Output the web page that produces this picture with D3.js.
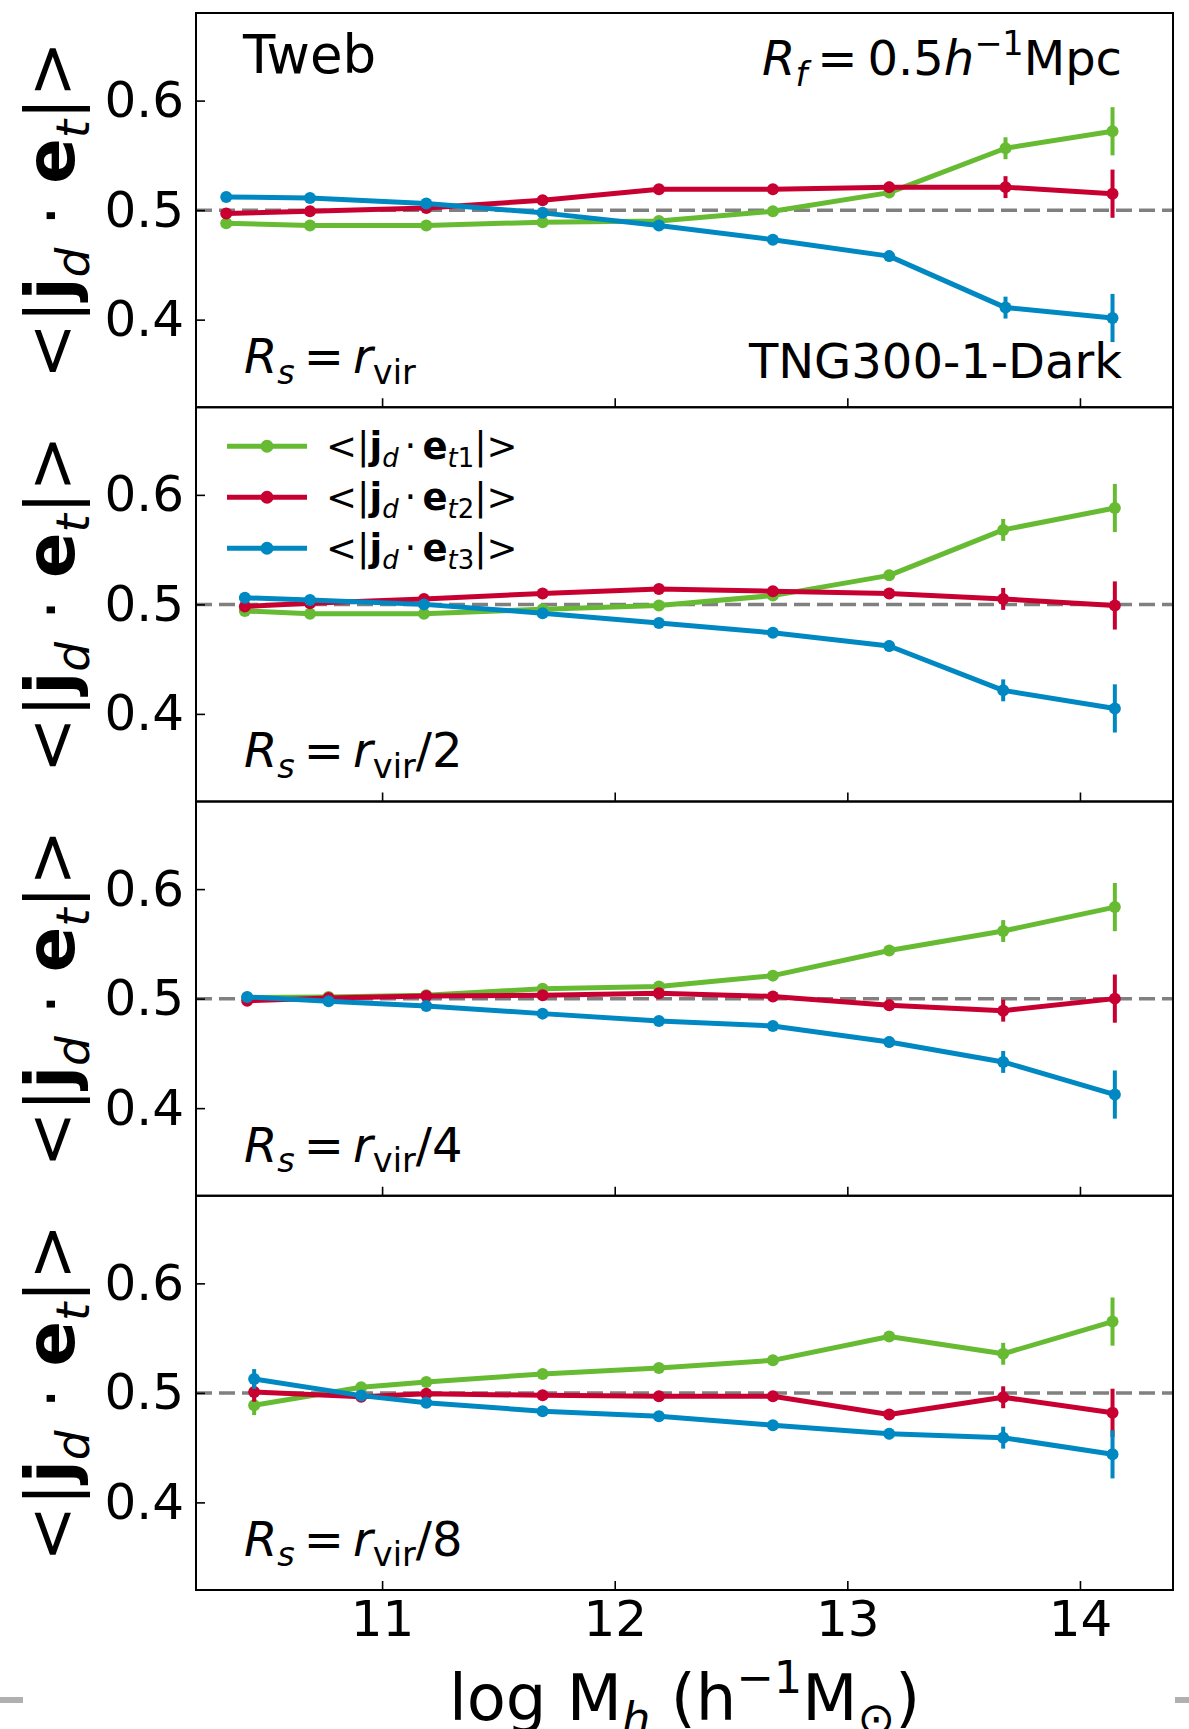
<!DOCTYPE html>
<html>
<head>
<meta charset="utf-8">
<script src="https://cdn.jsdelivr.net/npm/d3@7"></script>
<style>
  body { margin: 0; background: #fff; }
  text { font-family: "DejaVu Sans", sans-serif; white-space: pre; }
</style>
</head>
<body>
<svg id="chart" width="1189" height="1729"></svg>
<script>
// x positions of the mass bins (log Mh), one list per panel
var massBins1 = [10.33, 10.69, 11.19, 11.69, 12.19, 12.68, 13.18, 13.68, 14.14];
var massBins2 = [10.41, 10.69, 11.18, 11.69, 12.19, 12.68, 13.18, 13.67, 14.15];
var massBins3 = [10.42, 10.77, 11.19, 11.69, 12.19, 12.68, 13.18, 13.67, 14.15];
var massBins4 = [10.45, 10.91, 11.19, 11.69, 12.19, 12.68, 13.18, 13.67, 14.14];

// <|jd.et1|>, <|jd.et2|>, <|jd.et3|> for each smoothing radius
var et1_rvir  = [0.488, 0.486, 0.486, 0.489, 0.490, 0.499, 0.516, 0.5565, 0.572];
var et2_rvir  = [0.497, 0.499, 0.502, 0.509, 0.519, 0.519, 0.521, 0.521, 0.515];
var et3_rvir  = [0.512, 0.511, 0.506, 0.4975, 0.486, 0.473, 0.458, 0.411, 0.4015];

var et1_rvir2 = [0.494, 0.4915, 0.4915, 0.4955, 0.499, 0.508, 0.5265, 0.568, 0.588];
var et2_rvir2 = [0.498, 0.501, 0.505, 0.510, 0.514, 0.512, 0.510, 0.505, 0.499];
var et3_rvir2 = [0.506, 0.504, 0.500, 0.492, 0.483, 0.474, 0.462, 0.4215, 0.405];

var et1_rvir4 = [0.501, 0.5015, 0.503, 0.509, 0.511, 0.521, 0.544, 0.5617, 0.5836];
var et2_rvir4 = [0.498, 0.5005, 0.5024, 0.503, 0.505, 0.502, 0.494, 0.489, 0.500];
var et3_rvir4 = [0.5015, 0.4975, 0.4933, 0.4863, 0.4796, 0.475, 0.4604, 0.4422, 0.4124];

var et1_rvir8 = [0.4887, 0.5051, 0.510, 0.5173, 0.5227, 0.5297, 0.5515, 0.5357, 0.5651];
var et2_rvir8 = [0.5009, 0.4964, 0.4991, 0.4978, 0.4969, 0.4969, 0.4803, 0.496, 0.4818];
var et3_rvir8 = [0.5127, 0.4975, 0.4909, 0.4833, 0.4787, 0.4705, 0.4627, 0.4591, 0.4439];

// error bars (same size for the three components)
var err_rvir  = [0.002, 0.002, 0.002, 0.002, 0.003, 0.004, 0.005, 0.010, 0.022];
var err_rvir2 = [0.002, 0.002, 0.002, 0.002, 0.003, 0.004, 0.005, 0.010, 0.022];
var err_rvir4 = [0.002, 0.002, 0.002, 0.002, 0.003, 0.004, 0.005, 0.010, 0.022];
var err_rvir8 = [0.009, 0.004, 0.002, 0.002, 0.003, 0.004, 0.005, 0.010, 0.022];

var xMajorTicks = [11, 12, 13, 14];
var yMajorTicks = [0.4, 0.5, 0.6];
var seriesColors = ["#66bb33", "#c80032", "#0088c2"];

var panels = [
  {x: massBins1, ys: [et1_rvir,  et2_rvir,  et3_rvir],  err: err_rvir,  denom: ""},
  {x: massBins2, ys: [et1_rvir2, et2_rvir2, et3_rvir2], err: err_rvir2, denom: "/2"},
  {x: massBins3, ys: [et1_rvir4, et2_rvir4, et3_rvir4], err: err_rvir4, denom: "/4"},
  {x: massBins4, ys: [et1_rvir8, et2_rvir8, et3_rvir8], err: err_rvir8, denom: "/8"}
];

var svg = d3.select("#chart");
var left = 196, right = 1173, top0 = 13, bottom = 1590;
var ph = (bottom - top0) / panels.length;

var x = d3.scaleLinear().domain([10.2, 14.4]).range([left, right]);
var xMinor = d3.range(51, 73).map(function(i){ return i * 0.2; });
var yMinor = d3.range(17, 34).map(function(i){ return i * 0.02; });

// rich text: parts = [text, style, pos, dx] style n/i/b, pos -1 sub, 1 sup
function rich(t, parts, size) {
  var cur = 0;
  parts.forEach(function(p) {
    var pos = p[2] || 0;
    var fs = pos ? size * 0.7 : size;
    var target = pos < 0 ? size * 0.22 : (pos > 0 ? -size * 0.42 : 0);
    var ts = t.append("tspan").text(p[0]).attr("font-size", fs)
      .attr("dy", target - cur);
    if (p[3]) ts.attr("dx", p[3]);
    if (p[1] == "i") ts.attr("font-style", "italic");
    if (p[1] == "b") ts.attr("font-weight", "bold");
    cur = target;
  });
  return t;
}

panels.forEach(function(p, k) {
  var top = top0 + k * ph;
  var y = d3.scaleLinear().domain([0.32, 0.68]).range([top + ph, top]);
  var g = svg.append("g");

  // 0.5 reference line
  g.append("line")
    .attr("x1", left).attr("x2", right)
    .attr("y1", y(0.5)).attr("y2", y(0.5))
    .attr("stroke", "#808080").attr("stroke-width", 3.5)
    .attr("stroke-dasharray", "16,7");

  // axes, ticks inward
  var ay = g.append("g").attr("transform", "translate(" + left + ",0)");
  ay.call(d3.axisLeft(y).tickValues(yMinor).tickSize(-5).tickFormat(""));
  ay.call(d3.axisLeft(y).tickValues(yMajorTicks).tickSize(-9).tickPadding(12)
    .tickFormat(d3.format(".1f")));
  ay.selectAll(".domain").remove();

  var ax = g.append("g").attr("transform", "translate(0," + (top + ph) + ")");
  ax.call(d3.axisBottom(x).tickValues(xMinor).tickSize(-5).tickFormat(""));
  ax.call(d3.axisBottom(x).tickValues(xMajorTicks).tickSize(-9).tickPadding(10)
    .tickFormat(k == panels.length - 1 ? d3.format("d") : ""));
  ax.selectAll(".domain").remove();
  svg.selectAll(".tick line").attr("stroke", "#000").attr("stroke-width", 1.6);
  g.selectAll(".tick text").attr("font-size", 50).attr("fill", "#000")
    .attr("font-family", "DejaVu Sans");

  // series: green, red, blue (blue on top)
  p.ys.forEach(function(vals, s) {
    var col = seriesColors[s];
    var pts = vals.map(function(v, i){ return [p.x[i], v, p.err[i]]; });
    var line = d3.line().x(function(d){ return x(d[0]); }).y(function(d){ return y(d[1]); });
    var sg = g.append("g");
    sg.append("path").datum(pts).attr("d", line)
      .attr("fill", "none").attr("stroke", col).attr("stroke-width", 5)
      .attr("stroke-linejoin", "round");
    sg.selectAll(".eb").data(pts).enter().append("line")
      .attr("x1", function(d){ return x(d[0]); }).attr("x2", function(d){ return x(d[0]); })
      .attr("y1", function(d){ return y(d[1] - d[2]); })
      .attr("y2", function(d){ return y(d[1] + d[2]); })
      .attr("stroke", col).attr("stroke-width", 4);
    sg.selectAll("circle").data(pts).enter().append("circle")
      .attr("cx", function(d){ return x(d[0]); }).attr("cy", function(d){ return y(d[1]); })
      .attr("r", 6).attr("fill", col);
  });

  // frame
  g.append("rect").attr("x", left).attr("y", top).attr("width", right - left)
    .attr("height", ph).attr("fill", "none").attr("stroke", "#000").attr("stroke-width", 2);

  // y label
  rich(g.append("text").attr("text-anchor", "middle")
      .attr("transform", "translate(74," + (top + ph / 2) + ") rotate(-90)"),
    [["<", "n"], ["|", "n"], ["j", "b"], ["d", "i", -1], [" · ", "n"],
     ["e", "b"], ["t", "i", -1], ["|", "n"], [">", "n"]], 67);

  // Rs annotation
  rich(g.append("text").attr("x", 244).attr("y", top + 360),
    [["R", "i"], ["s", "i", -1], ["=", "n", 0, 9], ["r", "i", 0, 9], ["vir", "n", -1], [p.denom, "n"]], 48);
});

// panel 1 annotations
svg.append("text").attr("x", 243).attr("y", top0 + 60).attr("font-size", 53).text("Tweb");
rich(svg.append("text").attr("x", 1122).attr("y", top0 + 62).attr("text-anchor", "end"),
  [["R", "i"], ["f", "i", -1], ["=", "n", 0, 10], ["0.5", "n", 0, 10], ["h", "i"], ["−1", "n", 1], ["Mpc", "n"]], 48);
svg.append("text").attr("x", 1122).attr("y", top0 + 365).attr("text-anchor", "end")
  .attr("font-size", 48).text("TNG300-1-Dark");

// legend in panel 2
var legTop = top0 + ph;
var legendNames = ["1", "2", "3"];
legendNames.forEach(function(n, i) {
  var ly = legTop + 39 + i * 51;
  svg.append("line").attr("x1", 227).attr("x2", 307).attr("y1", ly).attr("y2", ly)
    .attr("stroke", seriesColors[i]).attr("stroke-width", 5);
  svg.append("circle").attr("cx", 267).attr("cy", ly).attr("r", 6.5).attr("fill", seriesColors[i]);
  rich(svg.append("text").attr("x", 326).attr("y", ly + 13),
    [["<", "n"], ["|", "n"], ["j", "b"], ["d", "i", -1], ["·", "n", 0, 6], ["e", "b", 0, 6],
     ["t", "i", -1], [n, "n", -1], ["|", "n"], [">", "n"]], 37);
});

// x label
rich(svg.append("text").attr("x", (left + right) / 2).attr("y", 1720).attr("text-anchor", "middle"),
  [["log M", "n"], ["h", "i", -1], [" (h", "n"], ["−1", "n", 1], ["M", "n"], ["⊙", "n", -1], [")", "n"]], 64);

// page edge marks
svg.append("rect").attr("x", 0).attr("y", 1697).attr("width", 23).attr("height", 6).attr("fill", "#b0b0b0");
svg.append("rect").attr("x", 1175).attr("y", 1697).attr("width", 14).attr("height", 6).attr("fill", "#b0b0b0");
</script>
</body>
</html>
